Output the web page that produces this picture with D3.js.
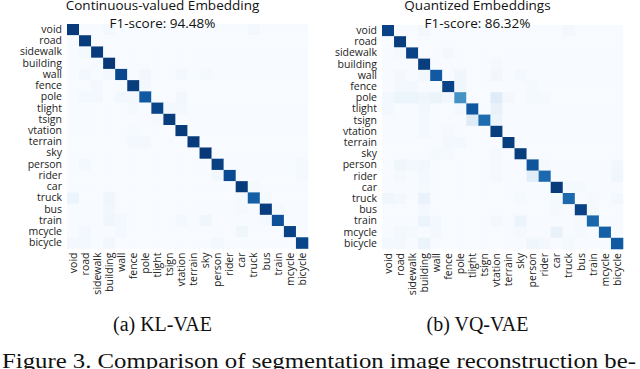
<!DOCTYPE html>
<meta charset="utf-8">
<style>
body { margin: 0; background: #fff; }
.lab text { font-family: "Open Sans", sans-serif; font-size: 10.5px; fill: #222; }
.ttl { font-family: "Open Sans", sans-serif; font-size: 13.5px; fill: #111; }
.cap { font-family: "Liberation Serif", serif; fill: #111; }
</style>
<svg width="640" height="369"></svg>
<script src="https://d3js.org/d3.v7.min.js"></script>
<script>

var categories = ["void", "road", "sidewalk", "building", "wall", "fence", "pole", "tlight", "tsign", "vtation",
                  "terrain", "sky", "person", "rider", "car", "truck", "bus", "train", "mcycle", "bicycle"];

// diagonal (per-class recall)
var klDiag = [0.96, 0.96, 0.96, 0.97, 0.91, 0.95, 0.84, 0.92, 0.95, 0.96,
              0.96, 0.97, 0.94, 0.90, 0.96, 0.82, 0.95, 0.87, 0.93, 0.92];
var vqDiag = [0.93, 0.95, 0.93, 0.95, 0.84, 0.93, 0.62, 0.85, 0.77, 0.95,
              0.95, 0.95, 0.86, 0.78, 0.96, 0.78, 0.93, 0.79, 0.82, 0.84];

// off-diagonal confusions: [row, col, value]
var klOff = [[0,3,.02],[0,15,.02],[2,1,.015],[3,2,.01],[4,1,.02],[4,3,.02],[4,6,.03],[4,9,.02],[4,11,.015],
  [5,2,.02],[5,6,.02],[6,1,.02],[6,2,.02],[6,4,.03],[6,5,.02],[6,9,.03],[7,5,.015],[7,8,.02],[7,9,.02],
  [8,7,.015],[9,5,.01],[10,5,.02],[10,6,.02],[12,1,.02],[12,19,.015],[13,12,.03],[13,19,.015],[14,15,.015],
  [15,0,.05],[15,3,.04],[15,14,.015],[15,16,.015],[16,3,.03],[16,14,.015],[16,17,.015],[17,3,.04],[17,4,.02],
  [17,9,.02],[17,11,.04],[17,16,.015],[18,1,.02],[18,4,.02],[18,14,.04],[19,0,.02],[19,1,.02],[19,3,.03],[19,12,.02]];
var vqOff = [[0,3,.02],[0,15,.02],[2,1,.015],[2,5,.02],[3,9,.015],[4,1,.02],[4,3,.03],[4,6,.04],[4,9,.03],[4,11,.02],
  [5,1,.02],[5,2,.02],[5,6,.04],[5,12,.015],[6,0,.02],[6,1,.05],[6,2,.05],[6,3,.04],[6,4,.06],[6,5,.03],[6,9,.12],
  [6,10,.02],[6,12,.015],[6,13,.015],[7,0,.02],[7,3,.03],[7,6,.02],[7,9,.07],[8,3,.02],[8,7,.12],[8,9,.05],
  [9,3,.02],[9,5,.015],[10,5,.02],[10,6,.02],[11,4,.015],[11,5,.015],[11,9,.015],[12,1,.04],[12,2,.02],[12,3,.03],
  [12,9,.015],[12,13,.015],[12,19,.03],[13,1,.015],[13,3,.02],[13,9,.015],[13,12,.11],[13,19,.04],[14,3,.015],
  [14,15,.015],[14,16,.015],[15,0,.04],[15,1,.02],[15,3,.07],[15,11,.015],[15,14,.015],[15,17,.015],[15,19,.02],
  [16,3,.02],[16,14,.015],[16,17,.015],[17,3,.06],[17,4,.02],[17,9,.02],[17,11,.06],[17,16,.015],[18,1,.02],
  [18,2,.015],[18,4,.02],[18,11,.015],[18,14,.07],[18,16,.015],[19,0,.02],[19,1,.02],[19,3,.06],[19,12,.04],
  [19,13,.02],[19,15,.015]];

var titles = ["Continuous-valued Embedding", "Quantized Embeddings"];
var f1 = ["94.48%", "86.32%"];
var captions = ["(a) KL-VAE", "(b) VQ-VAE"];
var figText = "Figure 3. Comparison of segmentation image reconstruction be-";

var svg = d3.select("svg");
var color = d3.scaleSequential(d3.interpolateBlues).domain([0, 1]);

function cells(diag, off) {
  var m = [];
  categories.forEach(function(r) {
    categories.forEach(function(c) { m.push({r: r, c: c, v: 0}); });
  });
  diag.forEach(function(v, i) { m[i * 20 + i].v = v; });
  off.forEach(function(d) { m[d[0] * 20 + d[1]].v = d[2]; });
  return m;
}

function heatmap(left, top, right, bottom, diag, off, k) {
  var x = d3.scaleBand().domain(categories).range([left, right]),
      y = d3.scaleBand().domain(categories).range([top, bottom]);
  var g = svg.append("g");

  g.selectAll("rect")
    .data(cells(diag, off))
    .enter().append("rect")
      .attr("x", function(d) { return x(d.c); })
      .attr("y", function(d) { return y(d.r); })
      .attr("width", x.bandwidth() + 0.3)
      .attr("height", y.bandwidth() + 0.3)
      .attr("fill", function(d) { return color(d.v); });

  var ya = g.append("g").attr("class", "lab")
    .attr("transform", "translate(" + left + ",0)")
    .call(d3.axisLeft(y).tickSize(0).tickPadding(5));
  ya.select(".domain").remove();

  var xa = g.append("g").attr("class", "lab")
    .attr("transform", "translate(0," + bottom + ")")
    .call(d3.axisBottom(x).tickSize(0));
  xa.select(".domain").remove();
  xa.selectAll("text")
    .attr("transform", "rotate(-90)")
    .attr("text-anchor", "end")
    .attr("x", -4).attr("y", 0).attr("dy", "0.35em");

  // titles sit left of the grid centre, as in the source figure
  var cx = (left + right) / 2 - 25;
  g.append("text").attr("class", "ttl").attr("x", cx).attr("y", 10)
    .attr("text-anchor", "middle").text(titles[k]);
  g.append("text").attr("class", "ttl").attr("x", cx).attr("y", 28)
    .attr("text-anchor", "middle").text("F1-score: " + f1[k]);
  g.append("text").attr("class", "cap").attr("x", cx).attr("y", 331)
    .attr("text-anchor", "middle").style("font-size", "20px").text(captions[k]);
}

heatmap(67, 24, 308, 248.5, klDiag, klOff, 0);
heatmap(382, 25, 623, 249, vqDiag, vqOff, 1);

svg.append("text").attr("class", "cap")
  .attr("x", 2).attr("y", 368)
  .attr("textLength", 634).attr("lengthAdjust", "spacingAndGlyphs")
  .style("font-size", "21px")
  .text(figText);

</script>
